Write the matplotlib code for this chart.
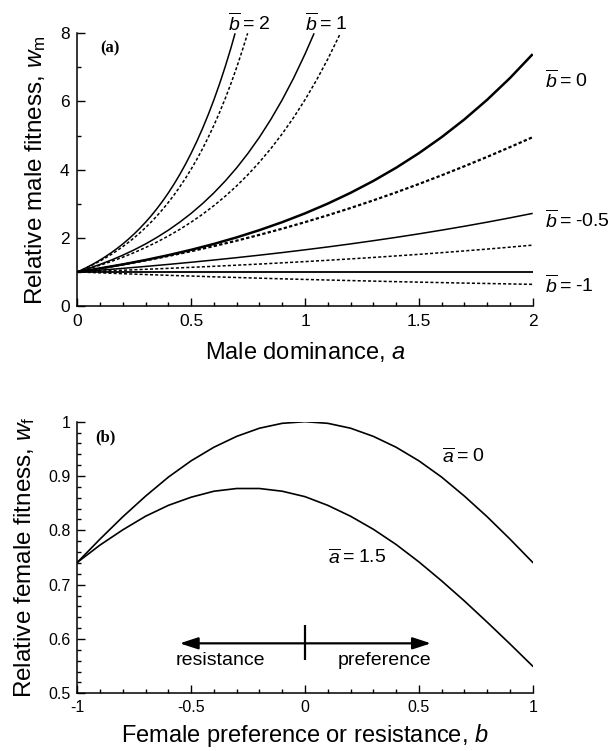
import matplotlib
matplotlib.use("Agg")
import matplotlib.pyplot as plt
from matplotlib.ticker import MultipleLocator, FuncFormatter

plt.rcParams['font.family'] = ['Liberation Sans', 'DejaVu Sans']
plt.rcParams['mathtext.fontset'] = 'custom'
plt.rcParams['mathtext.rm'] = 'Liberation Sans'
plt.rcParams['mathtext.it'] = 'Liberation Sans:italic'
plt.rcParams['axes.unicode_minus'] = False

# ---------------- Panel (a): relative male fitness vs male dominance ----------
a_b2_solid = [0, 0.025, 0.05, 0.075, 0.10, 0.125, 0.15, 0.175, 0.20, 0.225, 0.25, 0.275,
              0.30, 0.325, 0.35, 0.375, 0.40, 0.425, 0.45, 0.475, 0.50, 0.525, 0.55, 0.575,
              0.60, 0.625, 0.65, 0.675, 0.693]
w_b2_solid = [1.0, 1.078, 1.162, 1.252, 1.350, 1.455, 1.568, 1.690, 1.822, 1.964, 2.117, 2.282,
              2.460, 2.651, 2.858, 3.080, 3.320, 3.579, 3.857, 4.158, 4.482, 4.831, 5.207, 5.613,
              6.050, 6.521, 7.029, 7.576, 8.0]
a_b2_dash = [0, 0.025, 0.05, 0.075, 0.10, 0.125, 0.15, 0.175, 0.20, 0.225, 0.25, 0.275,
             0.30, 0.325, 0.35, 0.375, 0.40, 0.425, 0.45, 0.475, 0.50, 0.525, 0.55, 0.575,
             0.60, 0.625, 0.65, 0.675, 0.70, 0.725, 0.748]
w_b2_dash = [1.0, 1.072, 1.149, 1.232, 1.320, 1.416, 1.517, 1.627, 1.744, 1.869, 2.004, 2.148,
             2.302, 2.468, 2.646, 2.836, 3.040, 3.259, 3.494, 3.745, 4.015, 4.304, 4.614, 4.946,
             5.301, 5.683, 6.092, 6.530, 7.000, 7.505, 8.0]

a_b1_solid = [0, 0.05, 0.10, 0.15, 0.20, 0.25, 0.30, 0.35, 0.40, 0.45, 0.50, 0.55,
              0.60, 0.65, 0.70, 0.75, 0.80, 0.85, 0.90, 0.95, 1.00, 1.04]
w_b1_solid = [1.0, 1.105, 1.221, 1.350, 1.492, 1.649, 1.822, 2.014, 2.226, 2.460, 2.718, 3.004,
              3.320, 3.669, 4.055, 4.482, 4.953, 5.474, 6.050, 6.686, 7.389, 8.0]
a_b1_dash = [0, 0.05, 0.10, 0.15, 0.20, 0.25, 0.30, 0.35, 0.40, 0.45, 0.50, 0.55,
             0.60, 0.65, 0.70, 0.75, 0.80, 0.85, 0.90, 0.95, 1.00, 1.05, 1.10, 1.15, 1.155]
w_b1_dash = [1.0, 1.094, 1.197, 1.310, 1.433, 1.568, 1.716, 1.878, 2.054, 2.248, 2.460, 2.691,
             2.945, 3.222, 3.525, 3.857, 4.221, 4.618, 5.053, 5.529, 6.050, 6.619, 7.243, 7.925, 8.0]

a_grid = [0, 0.1, 0.2, 0.3, 0.4, 0.5, 0.6, 0.7, 0.8, 0.9, 1.0,
          1.1, 1.2, 1.3, 1.4, 1.5, 1.6, 1.7, 1.8, 1.9, 2.0]
w_b0_solid = [1.0, 1.105, 1.221, 1.350, 1.492, 1.649, 1.822, 2.014, 2.226, 2.460, 2.718,
              3.004, 3.320, 3.669, 4.055, 4.482, 4.953, 5.474, 6.050, 6.686, 7.389]
w_b0_dash = [1.0, 1.104, 1.217, 1.338, 1.468, 1.608, 1.758, 1.917, 2.088, 2.268, 2.460,
             2.662, 2.875, 3.099, 3.333, 3.579, 3.834, 4.100, 4.375, 4.660, 4.953]
w_bm05_solid = [1.0, 1.051, 1.105, 1.162, 1.221, 1.284, 1.350, 1.419, 1.492, 1.568, 1.649,
                1.733, 1.822, 1.916, 2.014, 2.117, 2.226, 2.340, 2.460, 2.586, 2.718]
w_bm05_dash = [1.0, 1.025, 1.050, 1.077, 1.105, 1.135, 1.165, 1.198, 1.231, 1.267, 1.303,
               1.342, 1.383, 1.425, 1.470, 1.516, 1.565, 1.617, 1.670, 1.727, 1.786]
a_bm1_solid = [0, 2.0]
w_bm1_solid = [1.0, 1.0]
w_bm1_dash = [1.0, 0.974, 0.948, 0.924, 0.901, 0.879, 0.857, 0.837, 0.817, 0.798, 0.780,
              0.763, 0.747, 0.731, 0.715, 0.701, 0.687, 0.673, 0.661, 0.648, 0.636]

# ---------------- Panel (b): relative female fitness vs preference ----------
b_grid = [-1.0, -0.9, -0.8, -0.7, -0.6, -0.5, -0.4, -0.3, -0.2, -0.1, 0.0,
          0.1, 0.2, 0.3, 0.4, 0.5, 0.6, 0.7, 0.8, 0.9, 1.0]
wf_a0 = [0.741, 0.784, 0.825, 0.863, 0.898, 0.928, 0.953, 0.973, 0.988, 0.997, 1.0,
         0.997, 0.988, 0.973, 0.953, 0.928, 0.898, 0.863, 0.825, 0.784, 0.741]
wf_a15 = [0.741, 0.773, 0.801, 0.826, 0.846, 0.861, 0.872, 0.877, 0.877, 0.872, 0.862,
          0.846, 0.826, 0.802, 0.774, 0.742, 0.707, 0.670, 0.631, 0.591, 0.550]

fig = plt.figure(figsize=(6.14, 7.51), dpi=100)

ax1 = fig.add_axes([0.1259, 0.5925, 0.7417, 0.3632])
ax2 = fig.add_axes([0.1259, 0.0768, 0.7417, 0.3617])

thin = 1.1
thick = 1.8
dash = (0, (2.0, 1.4))

ax1.plot(a_b2_solid, w_b2_solid, color='black', lw=thin, solid_capstyle='butt')
ax1.plot(a_b2_dash, w_b2_dash, color='black', lw=thin, linestyle=dash)
ax1.plot(a_b1_solid, w_b1_solid, color='black', lw=thin, solid_capstyle='butt')
ax1.plot(a_b1_dash, w_b1_dash, color='black', lw=thin, linestyle=dash)
ax1.plot(a_grid, w_b0_solid, color='black', lw=thick, solid_capstyle='butt')
ax1.plot(a_grid, w_b0_dash, color='black', lw=thick - 0.2, linestyle=(0, (1.5, 1.0)))
ax1.plot(a_grid, w_bm05_solid, color='black', lw=thin, solid_capstyle='butt')
ax1.plot(a_grid, w_bm05_dash, color='black', lw=thin, linestyle=dash)
ax1.plot(a_bm1_solid, w_bm1_solid, color='black', lw=thin + 0.2, solid_capstyle='butt')
ax1.plot(a_grid, w_bm1_dash, color='black', lw=thin, linestyle=dash)

ax1.set_xlim(0, 2)
ax1.set_ylim(0, 8)

ax2.plot(b_grid, wf_a0, color='black', lw=1.2)
ax2.plot(b_grid, wf_a15, color='black', lw=1.2)
ax2.set_xlim(-1, 1)
ax2.set_ylim(0.5, 1.0)


def fmt(x, pos):
    s = ('%.2f' % x).rstrip('0').rstrip('.')
    if s == '-0':
        s = '0'
    return s


for ax in (ax1, ax2):
    for side in ('top', 'right'):
        ax.spines[side].set_visible(False)
    for side in ('left', 'bottom'):
        ax.spines[side].set_linewidth(1.1)
    ax.tick_params(which='both', direction='in', width=1.0, top=False, right=False)
    ax.tick_params(which='major', length=5.5)
    ax.tick_params(which='minor', length=3.0)
    ax.xaxis.set_major_formatter(FuncFormatter(fmt))
    ax.yaxis.set_major_formatter(FuncFormatter(fmt))

ax1.xaxis.set_major_locator(MultipleLocator(0.5))
ax1.xaxis.set_minor_locator(MultipleLocator(0.1))
ax1.yaxis.set_major_locator(MultipleLocator(2))
ax1.yaxis.set_minor_locator(MultipleLocator(1))
ax1.tick_params(which='major', labelsize=12.5, pad=5.5)

ax2.xaxis.set_major_locator(MultipleLocator(0.5))
ax2.xaxis.set_minor_locator(MultipleLocator(0.1))
ax2.yaxis.set_major_locator(MultipleLocator(0.1))
ax2.yaxis.set_minor_locator(MultipleLocator(0.02))
ax2.tick_params(which='major', labelsize=11.5, pad=5)

ax1.set_xlabel('Male dominance, $a$', fontsize=17, labelpad=8)
ax1.set_ylabel('Relative male fitness, $w_\\mathrm{m}$', fontsize=17.5, labelpad=9)
ax2.set_xlabel('Female preference or resistance, $b$', fontsize=17, labelpad=4.5)
ax2.set_ylabel('Relative female fitness, $w_\\mathrm{f}$', fontsize=17.5, labelpad=8)

# Panel labels
ax1.text(0.1, 7.57, '(a)', fontsize=12, fontweight='bold', family='Liberation Serif',
         ha='left', va='center')
ax2.text(-0.92, 0.972, '(b)', fontsize=12, fontweight='bold', family='Liberation Serif',
         ha='left', va='center')

# Curve labels panel (a)
lab_fs = 14
ax1.text(0.755, 8.3, '$\\overline{b}$\u2009=\u20092', fontsize=lab_fs, ha='center', va='center',
         clip_on=False)
ax1.text(1.09, 8.3, '$\\overline{b}$\u2009=\u20091', fontsize=lab_fs, ha='center', va='center',
         clip_on=False)
ax1.text(2.054, 6.63, '$\\overline{b}$\u2009=\u20090', fontsize=lab_fs, ha='left', va='center',
         clip_on=False)
ax1.text(2.054, 2.52, '$\\overline{b}$\u2009=\u2009-0.5', fontsize=lab_fs, ha='left', va='center',
         clip_on=False)
ax1.text(2.054, 0.62, '$\\overline{b}$\u2009=\u2009-1', fontsize=lab_fs, ha='left', va='center',
         clip_on=False)

# Curve labels panel (b)
ax2.text(0.60, 0.936, '$\\overline{a}$\u2009=\u20090', fontsize=lab_fs, ha='left', va='center')
ax2.text(0.10, 0.749, '$\\overline{a}$\u2009=\u20091.5', fontsize=lab_fs, ha='left', va='center')

# resistance / preference arrows
arrow_y = 0.592
arrow_left, arrow_right = -0.55, 0.553
bar_lo, bar_hi = 0.561, 0.626
arrowprops = dict(arrowstyle='-|>,head_length=0.55,head_width=0.18', color='black', lw=1.6,
                  shrinkA=0, shrinkB=0, mutation_scale=20)
ax2.annotate('', xy=(arrow_left, arrow_y), xytext=(0, arrow_y), arrowprops=arrowprops)
ax2.annotate('', xy=(arrow_right, arrow_y), xytext=(0, arrow_y), arrowprops=arrowprops)
ax2.plot([0, 0], [bar_lo, bar_hi], color='black', lw=1.6, solid_capstyle='butt')
ax2.text(-0.37, 0.560, 'resistance', fontsize=lab_fs, ha='center', va='center')
ax2.text(0.553, 0.560, 'preference', fontsize=lab_fs, ha='right', va='center')

fig.savefig('out.png', dpi=100)
